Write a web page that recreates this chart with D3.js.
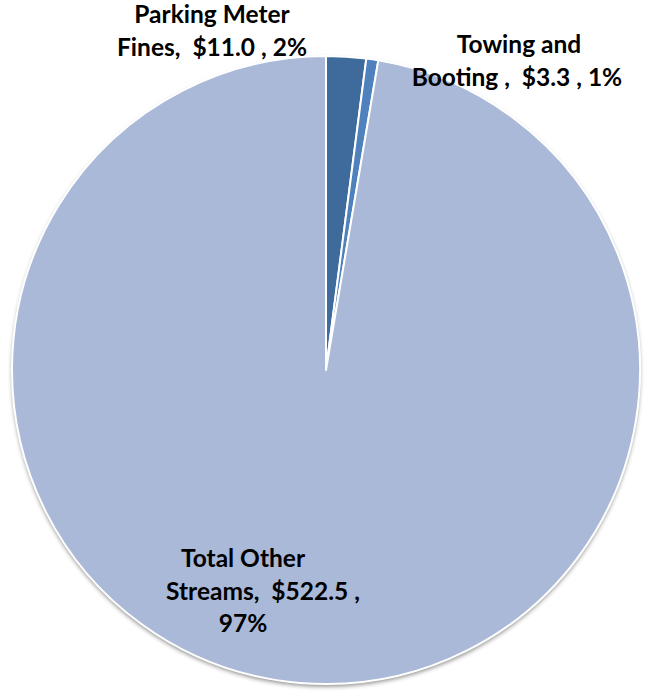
<!DOCTYPE html>
<html>
<head>
<meta charset="utf-8">
<script src="https://cdn.jsdelivr.net/npm/d3@7"></script>
<style>
  html, body { margin: 0; padding: 0; background: #fff; }
  svg { display: block; }
  .lbl { font-family: Lato, "Open Sans", sans-serif; font-weight: 700; fill: #000; white-space: pre; }
</style>
</head>
<body>
<svg id="chart" width="660" height="692"></svg>
<script>
// Revenue streams (in $ millions)
const categories = ["Parking Meter Fines", "Towing and Booting", "Total Other Streams"];
const values = [11.0, 3.3, 522.5];
const percents = ["2%", "1%", "97%"];
const colors = ["#3F6A9C", "#4F81BD", "#A9B9D7"];

// Label text, broken into lines as drawn
const labelLines = [
  ["Parking Meter", "Fines,  $" + values[0].toFixed(1) + " , " + percents[0]],
  ["Towing and", "Booting ,  $" + values[1].toFixed(1) + " , " + percents[1]],
  ["Total Other", "Streams,  $" + values[2].toFixed(1) + " ,", percents[2]]
];

const svg = d3.select("#chart");
const cx = 326, cy = 370, r = 314;

const defs = svg.append("defs");
const f = defs.append("filter").attr("id", "shadow")
  .attr("x", "-10%").attr("y", "-10%").attr("width", "120%").attr("height", "120%");
f.append("feDropShadow").attr("dx", 0).attr("dy", 2.5).attr("stdDeviation", 2.2)
  .attr("flood-color", "#000").attr("flood-opacity", 0.45);

const data = categories.map((c, i) => ({ name: c, value: values[i], color: colors[i], lines: labelLines[i] }));

const pie = d3.pie().sort(null).value(d => d.value);
const arc = d3.arc().innerRadius(0).outerRadius(r);

const g = svg.append("g").attr("transform", `translate(${cx},${cy})`);

// soft shadow disc under the pie
g.append("circle").attr("r", r).attr("fill", "#fff").attr("filter", "url(#shadow)");

g.selectAll("path.slice")
  .data(pie(data))
  .join("path")
  .attr("class", "slice")
  .attr("d", arc)
  .attr("fill", d => d.data.color)
  .attr("stroke", "#fff")
  .attr("stroke-width", 2)
  .attr("stroke-linejoin", "round");

// Data labels: anchor position per slice, line offsets from the anchor
const labelPos = [
  { x: 212, y: 23, dx: [0, 0] },
  { x: 519, y: 53, dx: [0, -2] },
  { x: 243, y: 567, dx: [0, 20, 0] }
];
const lineH = 32.5;

data.forEach((d, i) => {
  const p = labelPos[i];
  const t = svg.append("text").attr("class", "lbl")
    .attr("font-size", 24.5)
    .attr("text-anchor", "middle");
  d.lines.forEach((ln, j) => {
    t.append("tspan")
      .attr("x", p.x + p.dx[j])
      .attr("y", p.y + j * lineH)
      .text(ln);
  });
});
</script>
</body>
</html>
